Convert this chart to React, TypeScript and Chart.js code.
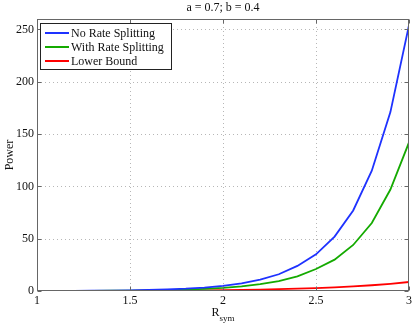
import React, { useEffect, useRef } from "react";
import { Chart, registerables } from "chart.js";

Chart.register(...registerables);

const rValues = [1.0, 1.1, 1.2, 1.3, 1.4, 1.5, 1.6, 1.7, 1.8, 1.9, 2.0, 2.1, 2.2, 2.3, 2.4, 2.5, 2.6, 2.7, 2.8, 2.9, 3.0];
const noRateSplitting = [0.05, 0.1, 0.18, 0.3, 0.45, 0.65, 1.0, 1.5, 2.2, 3.3, 4.9, 7.2, 10.8, 16, 24, 35, 52, 77, 115, 171, 254];
const withRateSplitting = [0.02, 0.05, 0.1, 0.17, 0.27, 0.4, 0.6, 0.9, 1.35, 2.0, 3.0, 4.4, 6.5, 9.5, 14, 21, 30, 44, 65, 97, 142];
const lowerBound = [0, 0.03, 0.06, 0.1, 0.14, 0.2, 0.28, 0.38, 0.5, 0.65, 0.85, 1.1, 1.4, 1.75, 2.2, 2.8, 3.5, 4.4, 5.5, 6.9, 8.6];
const seriesNames = ["No Rate Splitting", "With Rate Splitting", "Lower Bound"];
const seriesColors = ["rgb(30,50,255)", "rgb(20,170,0)", "rgb(255,0,0)"];
const xTicks = [1, 1.5, 2, 2.5, 3];
const yTicks = [0, 50, 100, 150, 200, 250];
const titleText = "a = 0.7; b = 0.4";
const yTitle = "Power";
const xTitleMain = "R";
const xTitleSub = "sym";

const FONT = "'Liberation Serif', 'Times New Roman', serif";

const decorPlugin = {
  id: "decor",
  beforeDatasetsDraw(chart: any) {
    const { ctx, chartArea: a, scales } = chart;
    ctx.save();
    ctx.strokeStyle = "rgba(175,175,175,0.9)";
    ctx.lineWidth = 1;
    ctx.setLineDash([1, 3]);
    for (const t of xTicks) {
      if (t === xTicks[0] || t === xTicks[xTicks.length - 1]) continue;
      const x = Math.round(scales.x.getPixelForValue(t)) + 0.5;
      ctx.beginPath();
      ctx.moveTo(x, a.top);
      ctx.lineTo(x, a.bottom);
      ctx.stroke();
    }
    for (const t of yTicks) {
      if (t === 0) continue;
      const y = Math.round(scales.y.getPixelForValue(t)) + 0.5;
      ctx.beginPath();
      ctx.moveTo(a.left, y);
      ctx.lineTo(a.right, y);
      ctx.stroke();
    }
    ctx.restore();
  },
  afterDatasetsDraw(chart: any) {
    const { ctx, chartArea: a, scales } = chart;
    ctx.save();
    ctx.setLineDash([]);
    ctx.strokeStyle = "#666";
    ctx.lineWidth = 1;
    const L = Math.round(a.left) + 0.5, R = Math.round(a.right) - 0.5;
    const T = Math.round(a.top) + 0.5, B = Math.round(a.bottom) - 0.5;
    ctx.strokeRect(L, T, R - L, B - T);
    const tl = 4;
    for (const t of xTicks) {
      const x = Math.round(scales.x.getPixelForValue(t)) + 0.5;
      ctx.beginPath();
      ctx.moveTo(x, B); ctx.lineTo(x, B - tl);
      ctx.moveTo(x, T); ctx.lineTo(x, T + tl);
      ctx.stroke();
    }
    for (const t of yTicks) {
      const y = Math.round(scales.y.getPixelForValue(t)) + 0.5;
      ctx.beginPath();
      ctx.moveTo(L, y); ctx.lineTo(L + tl, y);
      ctx.moveTo(R, y); ctx.lineTo(R - tl, y);
      ctx.stroke();
    }
    // legend
    const lx = 40.5, ly = 23.5, lw = 131, lh = 46;
    ctx.fillStyle = "#fff";
    ctx.fillRect(lx, ly, lw, lh);
    ctx.strokeStyle = "#222";
    ctx.strokeRect(lx, ly, lw, lh);
    ctx.font = `12px ${FONT}`;
    ctx.textBaseline = "middle";
    ctx.textAlign = "left";
    seriesNames.forEach((name, i) => {
      const y = 33 + i * 14;
      ctx.strokeStyle = seriesColors[i];
      ctx.lineWidth = 2;
      ctx.beginPath();
      ctx.moveTo(45, y);
      ctx.lineTo(69, y);
      ctx.stroke();
      ctx.fillStyle = "#111";
      ctx.fillText(name, 71, y + 1);
    });
    // titles
    ctx.fillStyle = "#111";
    ctx.textAlign = "center";
    ctx.font = `12px ${FONT}`;
    ctx.fillText(titleText, (a.left + a.right) / 2, 8);
    ctx.save();
    ctx.translate(10, (a.top + a.bottom) / 2);
    ctx.rotate(-Math.PI / 2);
    ctx.fillText(yTitle, 0, 0);
    ctx.restore();
    ctx.textAlign = "left";
    ctx.font = `12px ${FONT}`;
    const cx = (a.left + a.right) / 2;
    const mw = ctx.measureText(xTitleMain).width;
    ctx.font = `9px ${FONT}`;
    const sw = ctx.measureText(xTitleSub).width;
    const start = cx - (mw + sw) / 2;
    ctx.font = `12px ${FONT}`;
    ctx.fillText(xTitleMain, start, 313);
    ctx.font = `9px ${FONT}`;
    ctx.fillText(xTitleSub, start + mw, 319);
    ctx.restore();
  },
};

export default function App() {
  const ref = useRef<HTMLCanvasElement>(null);
  useEffect(() => {
    const datasets = [noRateSplitting, withRateSplitting, lowerBound].map((vals, i) => ({
      label: seriesNames[i],
      data: rValues.map((r, j) => ({ x: r, y: vals[j] })),
      borderColor: seriesColors[i],
      backgroundColor: seriesColors[i],
      borderWidth: 1.8,
      pointRadius: 0,
      tension: 0,
      fill: false,
    }));
    const chart = new Chart(ref.current!, {
      type: "line",
      data: { datasets },
      plugins: [decorPlugin],
      options: {
        animation: false,
        responsive: false,
        maintainAspectRatio: false,
        layout: { padding: { top: 19, right: 3, left: 0, bottom: 0 } },
        plugins: { legend: { display: false }, title: { display: false }, tooltip: { enabled: false } },
        scales: {
          x: {
            type: "linear",
            min: 1,
            max: 3,
            afterBuildTicks: (s: any) => { s.ticks = xTicks.map((v) => ({ value: v })); },
            afterFit: (s: any) => { s.height = 35; },
            grid: { display: false, drawTicks: false },
            border: { display: false },
            ticks: {
              color: "#111",
              font: { family: FONT, size: 12 },
              padding: 3,
              maxRotation: 0,
              callback: (v: any) => String(v),
            },
          },
          y: {
            type: "linear",
            min: 0,
            max: 260,
            afterBuildTicks: (s: any) => { s.ticks = yTicks.map((v) => ({ value: v })); },
            afterFit: (s: any) => { s.width = 37; },
            grid: { display: false, drawTicks: false },
            border: { display: false },
            ticks: {
              color: "#111",
              font: { family: FONT, size: 12 },
              padding: 3,
              callback: (v: any) => String(v),
            },
          },
        },
      },
    });
    return () => chart.destroy();
  }, []);
  return (
    <div style={{ position: "fixed", left: 0, top: 0, width: 415, height: 326, background: "#fff" }}>
      <canvas ref={ref} width={415} height={326} style={{ width: 415, height: 326, display: "block" }} />
    </div>
  );
}
